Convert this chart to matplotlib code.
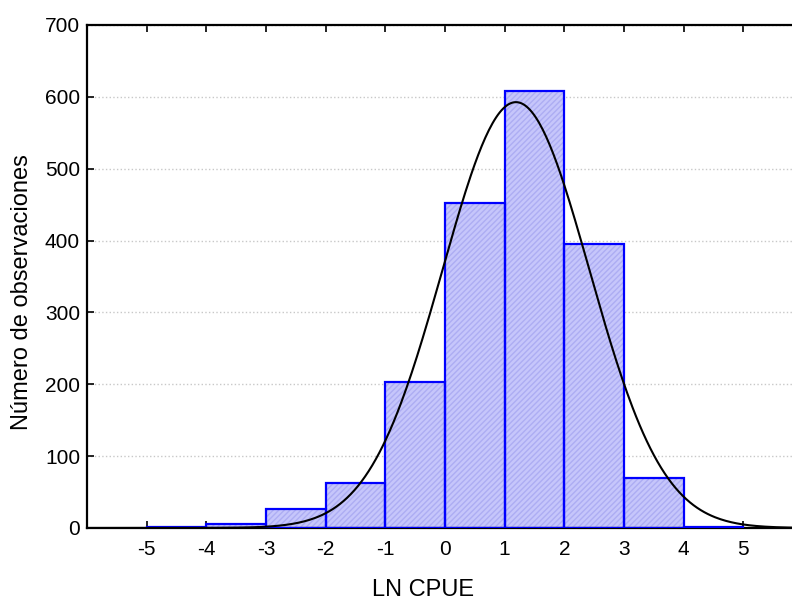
import numpy as np
import matplotlib.pyplot as plt

plt.rcParams['font.family'] = ['Liberation Sans', 'DejaVu Sans']
plt.rcParams['axes.unicode_minus'] = False

bin_edges = [-5, -4, -3, -2, -1, 0, 1, 2, 3, 4, 5]
counts = [2, 6, 26, 63, 203, 452, 608, 395, 70, 2]
fit_mean = 1.19
fit_sd = 1.23
x_ticks = [-5, -4, -3, -2, -1, 0, 1, 2, 3, 4, 5]
y_ticks = [0, 100, 200, 300, 400, 500, 600, 700]

fig = plt.figure(figsize=(7.92, 6.01), dpi=100)
ax = fig.add_axes([0.1098, 0.1215, 0.904, 0.837])

lefts = np.array(bin_edges[:-1])
widths = np.diff(bin_edges)
n = sum(counts)

# fill, light hatch, then blue outline
ax.bar(lefts, counts, width=widths, align='edge', color='#c6c6fb', edgecolor='none', zorder=2)
ax.bar(lefts, counts, width=widths, align='edge', color='none', edgecolor='#adadf3',
       hatch='//////', linewidth=0, zorder=2)
ax.bar(lefts, counts, width=widths, align='edge', color='none', edgecolor='#0000ff',
       linewidth=1.6, zorder=3)

xs = np.linspace(-6, 6, 400)
ys = n / (fit_sd * np.sqrt(2 * np.pi)) * np.exp(-0.5 * ((xs - fit_mean) / fit_sd) ** 2)
ax.plot(xs, ys, color='black', lw=1.5, zorder=4)

ax.set_xlim(-6, 6)
ax.set_ylim(0, 700)
ax.set_xticks(x_ticks)
ax.set_yticks(y_ticks)
ax.tick_params(direction='in', length=5, width=1.2, labelsize=15, top=True, right=False)
ax.tick_params(axis='x', pad=9)
ax.tick_params(axis='y', pad=5)
ax.yaxis.grid(True, linestyle=':', color='#c8c8c8', lw=1, zorder=0)
ax.set_axisbelow(True)
for s in ['left', 'top', 'bottom']:
    ax.spines[s].set_linewidth(1.6)
ax.spines['right'].set_visible(False)

ax.set_xlabel('LN CPUE', fontsize=17)
ax.set_ylabel('Número de observaciones', fontsize=17)
ax.xaxis.set_label_coords(0.469, -0.123)
ax.xaxis.label.set_va('center')
ax.yaxis.set_label_coords(-0.091, 0.468)
ax.yaxis.label.set_va('center')

fig.savefig('out.png', dpi=100)
